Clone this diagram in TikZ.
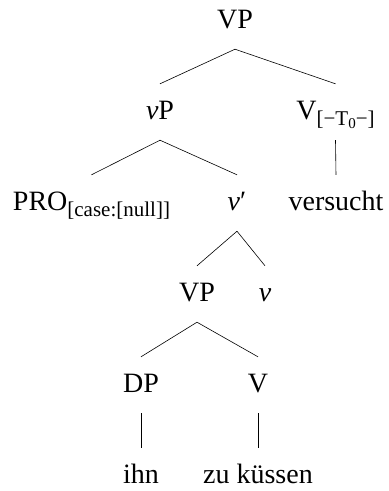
\documentclass[tikz,border=0pt]{standalone}
\usepackage{fontspec}
\setmainfont{Liberation Serif}

\newcommand{\featsub}[1]{\raisebox{-6pt}{\fontsize{21}{23}\selectfont #1}}
\newcommand{\numsub}[1]{\raisebox{-3pt}{\fontsize{15}{16}\selectfont #1}}

\begin{document}
\begin{tikzpicture}[
  x=1pt, y=-1pt,
  font=\fontsize{28}{30}\selectfont,
  cat/.style={anchor=base, inner xsep=0pt, inner ysep=16pt,
    text height=19pt, text depth=5pt},
  branch/.style={line width=0.6pt},
]
\useasboundingbox (0,0) rectangle (389,491);

\node[cat] (vptop) at (235,28) {VP};

\node[cat] (littlevp) at (160,119) {\textit{v}P};
\node[cat] (vtop) at (335.5,119) {V\featsub{[−T\numsub{0}−]}};

\node[cat] (pro) at (91.5,210) {PRO\featsub{[case:[null]]}};
\node[cat] (vbar) at (237,210) {\textit{v}′};
\node[cat] (versucht) at (336,210) {versucht};

\node[cat] (vplow) at (197,301) {VP};
\node[cat] (littlev) at (265,301) {\textit{v}};

\node[cat] (dp) at (141,392) {DP};
\node[cat] (vlow) at (258,392) {V};

\node[cat] (ihn) at (141,483) {ihn};
\node[cat] (zukuessen) at (258,483) {zu küssen};

\foreach \a/\b in {vptop/littlevp, vptop/vtop, littlevp/pro, littlevp/vbar,
    vtop/versucht, vbar/vplow, vbar/littlev, vplow/dp, vplow/vlow,
    dp/ihn, vlow/zukuessen} {
  \draw[branch] (\a.south) -- (\b.north);
}
\end{tikzpicture}
\end{document}
